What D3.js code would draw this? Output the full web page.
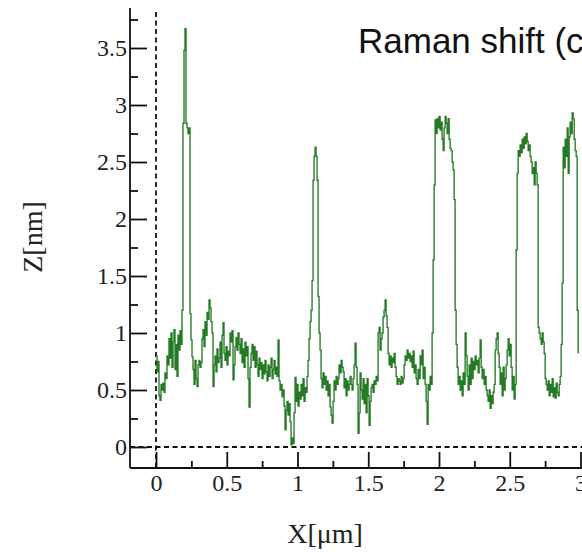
<!DOCTYPE html>
<html>
<head>
<meta charset="utf-8">
<script src="https://cdn.jsdelivr.net/npm/d3@7"></script>
<style>
  body { margin: 0; background: #fff; overflow: hidden; }
  svg { display: block; }
</style>
</head>
<body>
<script>
var width = 582,
    height = 552;

// AFM line profile, height in nm, one sample every scanStep um starting at 0
var scanStep = 0.00707;
var zProfile = [
  0.80,0.66,0.75,0.45,0.41,0.55,0.50,0.56,0.48,0.65,
  0.60,0.80,0.72,0.95,0.78,1.00,0.70,0.92,1.03,0.68,
  0.90,0.62,0.98,0.85,1.02,0.90,1.20,2.84,3.48,3.67,
  2.84,2.80,2.75,2.80,1.17,0.94,0.79,0.68,0.55,0.76,
  0.60,0.53,0.72,0.76,0.70,0.74,0.95,1.03,0.88,1.10,
  0.98,1.18,1.12,1.29,1.22,1.10,1.00,0.53,0.72,0.80,
  0.66,0.86,0.74,0.78,0.92,0.70,0.98,1.09,0.82,0.76,
  0.88,0.72,0.84,0.80,1.00,0.92,1.02,0.59,0.72,0.88,
  0.96,0.85,1.00,0.90,0.82,0.95,0.74,0.86,0.70,0.92,
  0.80,0.88,0.60,0.35,0.70,0.82,0.90,0.76,0.88,0.70,
  0.84,0.72,0.62,0.78,0.68,0.74,0.60,0.72,0.64,0.76,
  0.66,0.58,0.72,0.62,0.70,0.78,0.60,0.68,0.76,0.64,
  0.70,0.62,0.94,0.58,0.50,0.55,0.44,0.50,0.36,0.15,
  0.32,0.40,0.28,0.38,0.22,0.02,0.08,0.03,0.30,0.61,
  0.40,0.55,0.36,0.48,0.42,0.55,0.45,0.60,0.40,0.52,
  0.48,0.62,0.76,0.95,1.10,1.20,1.46,2.34,2.55,2.63,
  2.55,2.34,1.32,1.00,0.85,0.60,0.52,0.65,0.55,0.62,
  0.50,0.58,0.45,0.55,0.35,0.28,0.21,0.40,0.58,0.50,
  0.62,0.55,0.60,0.72,0.65,0.76,0.70,0.66,0.52,0.60,
  0.45,0.58,0.50,0.55,0.62,0.55,0.50,0.60,0.72,0.91,
  0.70,0.55,0.12,0.30,0.65,0.50,0.42,0.60,0.38,0.55,
  0.30,0.60,0.45,0.19,0.40,0.52,0.55,0.48,0.58,0.55,
  0.62,0.58,1.00,1.05,0.85,0.95,1.00,1.14,1.20,1.29,
  1.15,1.05,0.82,0.72,0.80,0.70,0.78,0.74,0.82,0.70,
  0.62,0.55,0.60,0.58,0.55,0.62,0.56,0.60,0.72,0.80,
  0.76,0.85,0.78,0.82,0.75,0.80,0.70,0.84,0.65,0.72,
  0.60,0.55,0.68,0.60,0.80,0.72,0.85,0.60,0.70,0.55,
  0.40,0.20,0.55,0.50,0.62,0.55,1.00,1.64,2.30,2.87,
  2.75,2.88,2.80,2.90,2.78,2.85,2.70,2.60,2.80,2.90,
  2.84,2.75,2.88,2.70,2.62,2.60,2.50,2.43,2.17,1.20,
  0.90,0.70,0.55,0.62,0.50,0.58,0.45,0.65,0.55,1.00,
  0.80,0.62,0.50,0.72,0.55,0.78,0.60,0.75,0.68,0.80,
  0.72,0.76,0.65,0.78,0.94,0.70,0.60,0.68,0.55,0.62,
  0.50,0.45,0.40,0.50,0.34,0.45,0.38,0.48,0.55,0.85,
  0.95,1.00,0.82,0.70,0.55,0.65,0.45,0.70,0.50,0.60,
  0.72,0.85,0.95,0.80,0.90,0.70,0.50,0.62,0.42,0.55,
  1.73,2.40,2.60,2.55,2.65,2.58,2.70,2.62,2.72,2.66,
  2.75,2.68,2.60,2.65,2.55,2.50,2.40,2.45,2.30,2.50,
  2.40,2.30,1.05,1.00,0.95,0.90,1.00,0.92,0.82,0.60,
  0.55,0.50,0.58,0.45,0.55,0.48,0.60,0.44,0.52,0.43,
  0.56,0.48,0.45,0.55,0.62,0.90,1.44,2.63,2.45,2.70,
  2.55,2.80,2.40,2.72,2.85,2.75,2.93,2.88,2.70,2.60,
  2.55,1.20,0.82
];

var xMajor = [0, 0.5, 1, 1.5, 2, 2.5, 3];
var xMinor = [0.25, 0.75, 1.25, 1.75, 2.25, 2.75];
var yMajor = [0, 0.5, 1, 1.5, 2, 2.5, 3, 3.5];
var yMinor = [0.25, 0.75, 1.25, 1.75, 2.25, 2.75, 3.25, 3.75];

var titleText = "Raman shift (cm\u207B\u00B9)";
var xTitle = "X[\u03BCm]";
var yTitle = "Z[nm]";

var svg = d3.select("body").append("svg")
    .attr("width", width)
    .attr("height", height);

var x = d3.scaleLinear()
    .domain([0, 3])
    .range([156, 580.5]);

var y = d3.scaleLinear()
    .domain([0, 3.5])
    .range([447, 48]);

var axisX0 = 130, axisY0 = 468;
var serif = "'Liberation Serif', 'Times New Roman', serif";

// dashed zero lines
svg.append("line")
    .attr("x1", x(0)).attr("x2", x(0))
    .attr("y1", 12).attr("y2", axisY0)
    .attr("stroke", "#111").attr("stroke-width", 1.8)
    .attr("stroke-dasharray", "5,3.5");
svg.append("line")
    .attr("x1", axisX0).attr("x2", width)
    .attr("y1", y(0)).attr("y2", y(0))
    .attr("stroke", "#111").attr("stroke-width", 1.8)
    .attr("stroke-dasharray", "5,3.5");

// profile
var line = d3.line()
    .x(function(d, i) { return x(i * scanStep); })
    .y(function(d) { return y(d); })
    .curve(d3.curveStepAfter);

svg.append("path")
    .datum(zProfile)
    .attr("fill", "none")
    .attr("stroke", "#257a25")
    .attr("stroke-width", 1.35)
    .attr("d", line);

// y axis
var gy = svg.append("g")
    .attr("transform", "translate(" + axisX0 + ",0)");
gy.call(d3.axisLeft(y).tickValues(yMajor).tickSizeInner(-17).tickSizeOuter(0).tickPadding(3)
    .tickFormat(d3.format("")));
gy.append("g").call(d3.axisLeft(y).tickValues(yMinor).tickSizeInner(-8).tickSizeOuter(0).tickFormat(""));
gy.selectAll(".domain").remove();
gy.append("line")
    .attr("x1", 0).attr("x2", 0)
    .attr("y1", 8).attr("y2", axisY0)
    .attr("stroke", "#111").attr("stroke-width", 1.8);

// x axis
var gx = svg.append("g")
    .attr("transform", "translate(0," + axisY0 + ")");
gx.call(d3.axisBottom(x).tickValues(xMajor).tickSizeInner(-16).tickSizeOuter(0).tickPadding(6)
    .tickFormat(d3.format("")));
gx.append("g").call(d3.axisBottom(x).tickValues(xMinor).tickSizeInner(-7).tickSizeOuter(0).tickFormat(""));
gx.selectAll(".domain").remove();
gx.append("line")
    .attr("x1", axisX0).attr("x2", width)
    .attr("y1", 0).attr("y2", 0)
    .attr("stroke", "#111").attr("stroke-width", 1.8);

svg.selectAll(".tick line")
    .attr("stroke", "#111").attr("stroke-width", 1.8);
svg.selectAll(".tick text")
    .attr("fill", "#222")
    .style("font-family", serif)
    .style("font-size", "24px");

// titles
svg.append("text")
    .attr("x", 325).attr("y", 543)
    .attr("text-anchor", "middle")
    .attr("fill", "#222")
    .style("font-family", serif)
    .style("font-size", "28px")
    .text(xTitle);

svg.append("text")
    .attr("transform", "translate(42,237) rotate(-90)")
    .attr("text-anchor", "middle")
    .attr("fill", "#222")
    .style("font-family", serif)
    .style("font-size", "28px")
    .text(yTitle);

svg.append("text")
    .attr("x", 358).attr("y", 53)
    .attr("fill", "#111")
    .style("font-family", "'Liberation Sans', Arial, sans-serif")
    .style("font-size", "35px")
    .text(titleText);
</script>
</body>
</html>
